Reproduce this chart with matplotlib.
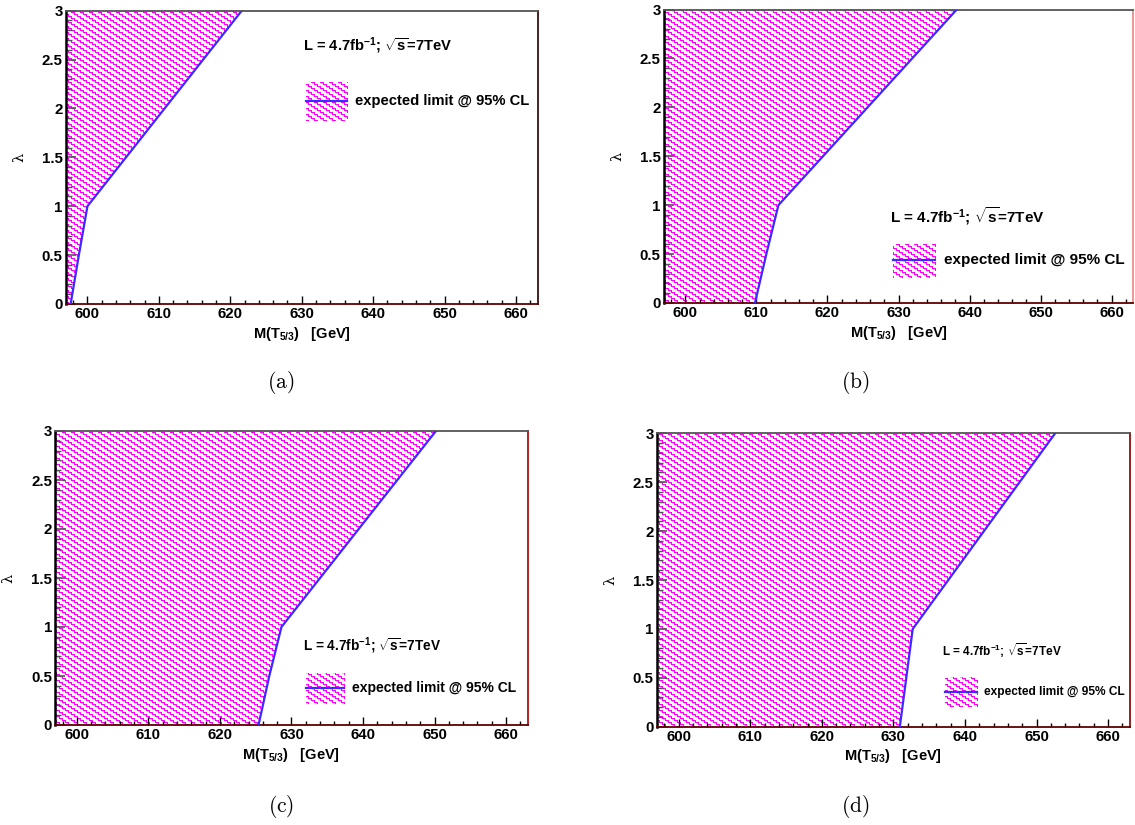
import numpy as np
import matplotlib
matplotlib.use("Agg")
import matplotlib.pyplot as plt
from matplotlib.patches import Polygon, Rectangle
from matplotlib.lines import Line2D
from matplotlib.ticker import MultipleLocator, FuncFormatter

# expected 95% CL exclusion contours, lambda vs M(T5/3)
lam = [0.0, 0.5, 1.0, 3.0]
mass_a = [597.65, 598.8, 600.0, 621.6]
mass_b = [609.8, 611.4, 613.1, 638.2]
mass_c = [625.4, 626.9, 628.6, 650.2]
mass_d = [630.9, 631.8, 632.7, 652.6]

panel_names = ["(a)", "(b)", "(c)", "(d)"]
x_ticks = [600, 610, 620, 630, 640, 650, 660]
lumi_label = r"L = 4.7fb$^{-1}$; $\sqrt{\mathrm{s}}$=7TeV"
legend_label = "expected limit @ 95% CL"
x_label = r"M(T$_{5/3}$)   [GeV]"

W, H = 1135, 825
plt.rcParams["font.family"] = ["Liberation Sans", "DejaVu Sans"]
plt.rcParams["font.weight"] = "bold"
plt.rcParams["mathtext.fontset"] = "custom"
plt.rcParams["mathtext.rm"] = "Liberation Sans:bold"
plt.rcParams["mathtext.it"] = "Liberation Sans:bold:italic"
plt.rcParams["mathtext.bf"] = "Liberation Sans:bold"

MAGENTA = np.array([255, 0, 255, 255], dtype=np.uint8)
PINK = np.array([250, 185, 250, 255], dtype=np.uint8)


def stairs(h, w):
    """ROOT-like 'stairs' fill pattern, one pixel per cell."""
    rows = np.arange(h)[:, None]
    cols = np.arange(w)[None, :]
    phase = (rows - 2 * (cols // 3)) % 6
    on = (phase == 0) | ((cols % 3 == 2) & (phase <= 2))
    soft = (phase == 1) & ~on
    img = np.zeros((h, w, 4), dtype=np.uint8)
    img[on] = MAGENTA
    img[soft] = PINK
    return img


def fx(x):
    return x / W


def fy(y):
    return 1 - y / H


texture = stairs(H, W)

fig = plt.figure(figsize=(W / 100, H / 100), dpi=100)
fig.patch.set_facecolor("white")

# axes boxes in pixels: left, top, right, bottom
boxes = [(66, 10.7, 537.5, 304), (664, 9.5, 1133, 303),
         (55.4, 431, 527.5, 725), (657.2, 433.3, 1129.6, 726.7)]
right_colors = ["#3a1010", "#e89090", "#b01010", "#8a1010"]
masses = [mass_a, mass_b, mass_c, mass_d]

# legend layout per panel (pixels): lumi text (x, y, size), box (x0, y0, x1, y1), text (x, size)
lumi_pos = [(303, 46, 10.6), (890, 216, 11.0), (303, 646, 9.8), (942, 651, 8.5)]
leg_box = [(306, 82, 347, 120), (893, 244, 935, 277), (306, 673, 344, 703), (945, 677, 977, 706)]
leg_text = [(355, 10.6), (944, 11.0), (352, 10.0), (984, 8.6)]
captions = [(281, 383), (855, 383), (281, 807), (855, 807)]

for i, (l, t, r, b) in enumerate(boxes):
    ax = fig.add_axes([fx(l), fy(b), (r - l) / W, (b - t) / H])
    ax.patch.set_facecolor("none")
    ax.set_xlim(597, 663)
    ax.set_ylim(0, 3)

    m = masses[i]
    verts = [(597, lam[0])] + list(zip(m, lam)) + [(597, lam[-1])]
    clip = Polygon(verts, closed=True, transform=ax.transData)
    im = fig.figimage(texture, xo=0, yo=0, origin="upper", zorder=-1)
    im.set_clip_path(clip)
    ax.plot(m, lam, color="#3a2bff", lw=1.6, zorder=3)

    ax.set_xticks(x_ticks)
    ax.xaxis.set_minor_locator(MultipleLocator(2))
    ax.yaxis.set_major_locator(MultipleLocator(0.5))
    ax.yaxis.set_minor_locator(MultipleLocator(0.1))
    ax.yaxis.set_major_formatter(FuncFormatter(lambda v, p: f"{v:g}"))
    ax.tick_params(which="both", direction="in", top=False, right=False,
                   labelsize=10.8, pad=2.5)
    ax.tick_params(axis="x", which="major", length=5.8, width=1, color="black")
    ax.tick_params(axis="x", which="minor", length=3.0, width=1, color="black")
    ax.tick_params(axis="y", which="major", length=7.5, width=1.2, color="#555555")
    ax.tick_params(axis="y", which="minor", length=4.3, width=1, color="#555555")
    for lab in ax.get_xticklabels() + ax.get_yticklabels():
        lab.set_fontweight("bold")

    ax.spines["left"].set_color("black")
    ax.spines["top"].set_color("#555555")
    ax.spines["bottom"].set_color("#600000")
    ax.spines["right"].set_color(right_colors[i])
    for s in ax.spines.values():
        s.set_linewidth(1.3)
    ax.spines["left"].set_linewidth(1.8)

    ax.set_xlabel(x_label, fontsize=10.5, fontweight="bold")
    ax.xaxis.set_label_coords(0.5, -0.07)
    ax.set_ylabel("λ", fontsize=10.5, family="DejaVu Serif", fontweight="normal")
    ax.yaxis.set_label_coords(-0.085, 0.5)

    # luminosity label
    lx, ly, ls = lumi_pos[i]
    fig.text(fx(lx), fy(ly), lumi_label, fontsize=ls, fontweight="bold",
             ha="left", va="center")

    # legend: hatched box with the contour line and text
    x0, y0, x1, y1 = leg_box[i]
    rect = Rectangle((fx(x0), fy(y1)), (x1 - x0) / W, (y1 - y0) / H,
                     transform=fig.transFigure)
    lim = fig.figimage(texture, xo=0, yo=0, origin="upper", zorder=-1)
    lim.set_clip_path(rect)
    ym = (y0 + y1) / 2
    fig.add_artist(Line2D([fx(x0), fx(x1)], [fy(ym), fy(ym)], color="#3a2bff",
                          lw=1.6, transform=fig.transFigure))
    tx, ts = leg_text[i]
    fig.text(fx(tx), fy(ym), legend_label, fontsize=ts, fontweight="bold",
             ha="left", va="center")

    cx, cy = captions[i]
    fig.text(fx(cx), fy(cy), r"$\mathrm{" + panel_names[i] + "}$", fontsize=15.5,
             math_fontfamily="cm", ha="center", va="center")

fig.savefig("out.png", dpi=100)
